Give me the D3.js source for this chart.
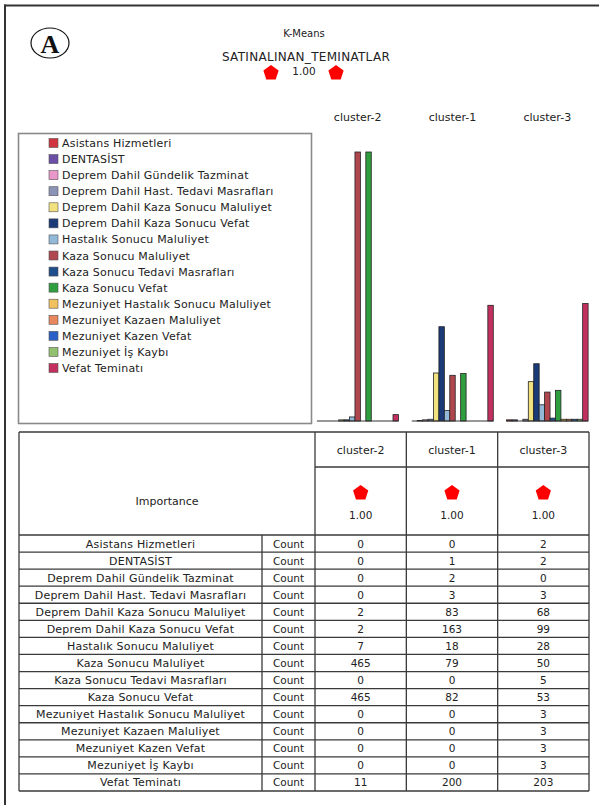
<!DOCTYPE html>
<html>
<head>
<meta charset="utf-8">
<script src="https://cdn.jsdelivr.net/npm/d3@7"></script>
<style>
  body { margin: 0; background: #fff; }
  text { font-family: "DejaVu Sans", sans-serif; fill: #222; }
</style>
</head>
<body>
<svg id="chart"></svg>
<script>
// data
const clusters = ["cluster-2", "cluster-1", "cluster-3"]
const categories = [
    "Asistans Hizmetleri",
    "DENTASİST",
    "Deprem Dahil Gündelik Tazminat",
    "Deprem Dahil Hast. Tedavi Masrafları",
    "Deprem Dahil Kaza Sonucu Maluliyet",
    "Deprem Dahil Kaza Sonucu Vefat",
    "Hastalık Sonucu Maluliyet",
    "Kaza Sonucu Maluliyet",
    "Kaza Sonucu Tedavi Masrafları",
    "Kaza Sonucu Vefat",
    "Mezuniyet Hastalık Sonucu Maluliyet",
    "Mezuniyet Kazaen Maluliyet",
    "Mezuniyet Kazen Vefat",
    "Mezuniyet İş Kaybı",
    "Vefat Teminatı"
]
const cluster2 = [0, 0, 0, 0, 2, 2, 7, 465, 0, 465, 0, 0, 0, 0, 11]
const cluster1 = [0, 1, 2, 3, 83, 163, 18, 79, 0, 82, 0, 0, 0, 0, 200]
const cluster3 = [2, 2, 0, 3, 68, 99, 28, 50, 5, 53, 3, 3, 3, 3, 203]
const importance = [1.00, 1.00, 1.00]
const overallImportance = 1.00
const fieldName = "SATINALINAN_TEMINATLAR"

const colors = ["#d0343f", "#6b4ea6", "#e996c9", "#8b93b6", "#f1e17f", "#1b3a78",
    "#93b9d9", "#b0474f", "#1f4e8c", "#2f9e3e", "#f0c15e", "#e8875e",
    "#2b61c6", "#92c06f", "#c2305f"]

const counts = [cluster2, cluster1, cluster3]

const width = 599,
    height = 805

const svg = d3.select("#chart")
    .attr("width", width)
    .attr("height", height)

svg.append("rect").attr("width", width).attr("height", height).attr("fill", "#fff")

// frame (top + left only)
svg.append("line").attr("x1", 4).attr("x2", width).attr("y1", 5.5).attr("y2", 5.5)
    .attr("stroke", "#333").attr("stroke-width", 2)
svg.append("line").attr("x1", 5).attr("x2", 5).attr("y1", 4.5).attr("y2", height)
    .attr("stroke", "#333").attr("stroke-width", 2)

// circled A
svg.append("ellipse").attr("cx", 50).attr("cy", 43).attr("rx", 19).attr("ry", 15)
    .attr("fill", "none").attr("stroke", "#111").attr("stroke-width", 1.2)
svg.append("text").attr("x", 50).attr("y", 52.5).attr("text-anchor", "middle")
    .style("font-family", "'Liberation Serif', serif").style("font-weight", "bold")
    .style("font-size", "26px").style("fill", "#111").text("A")

// pentagon generator
const pentagon = r => d3.lineRadial()
    .angle(d => d)
    .radius(r)
    .curve(d3.curveLinearClosed)(d3.range(5).map(i => i * 2 * Math.PI / 5))

// header
svg.append("text").attr("x", 304).attr("y", 37).attr("text-anchor", "middle")
    .style("font-size", "10px").text("K-Means")
svg.append("text").attr("x", 306).attr("y", 61).attr("text-anchor", "middle")
    .style("font-size", "12px").style("letter-spacing", "0.3px").text(fieldName)
svg.append("text").attr("x", 304).attr("y", 75).attr("text-anchor", "middle")
    .style("font-size", "10.5px").text(overallImportance.toFixed(2))
svg.selectAll(".hdrPent")
    .data([271, 336])
    .join("path")
    .attr("class", "hdrPent")
    .attr("transform", d => "translate(" + d + ",73)")
    .attr("d", pentagon(8))
    .attr("fill", "#f00")

// legend box
svg.append("rect").attr("x", 18.5).attr("y", 133.5).attr("width", 293).attr("height", 290)
    .attr("fill", "none").attr("stroke", "#8a8a8a").attr("stroke-width", 1.6)

const legendY = d3.scalePoint().domain(categories).range([143, 368])

const legend = svg.append("g").selectAll("g")
    .data(categories)
    .join("g")
    .attr("transform", d => "translate(0," + legendY(d) + ")")

legend.append("rect")
    .attr("x", 49).attr("y", -4.5).attr("width", 9).attr("height", 9)
    .attr("fill", (d, i) => colors[i])
    .attr("stroke", "#555").attr("stroke-width", 0.6)
legend.append("text")
    .attr("x", 62).attr("y", 4)
    .style("font-size", "11px")
    .style("letter-spacing", "0.2px")
    .text(d => d)

// bar chart
const groupX = d3.scaleBand()
    .domain(clusters)
    .range([315, 590])
    .paddingInner(0.14)
    .paddingOuter(0.02)

const innerX = d3.scaleBand()
    .domain(categories)
    .range([0, groupX.bandwidth()])

const y = d3.scaleLinear()
    .domain([0, d3.max(counts.flat())])
    .range([421, 152])

svg.selectAll(".clLabel")
    .data(clusters)
    .join("text")
    .attr("class", "clLabel")
    .attr("x", d => groupX(d) + groupX.bandwidth() / 2)
    .attr("y", 121)
    .attr("text-anchor", "middle")
    .style("font-size", "11px")
    .text(d => d)

clusters.forEach((c, ci) => {
    const g = svg.append("g").attr("transform", "translate(" + groupX(c) + ",0)")

    g.selectAll("rect")
        .data(counts[ci].map((v, i) => ({ cat: categories[i], v: v, i: i })).filter(d => d.v > 0))
        .join("rect")
        .attr("x", d => innerX(d.cat))
        .attr("width", innerX.bandwidth())
        .attr("y", d => y(d.v))
        .attr("height", d => y(0) - y(d.v))
        .attr("fill", d => colors[d.i])
        .attr("stroke", "#222")
        .attr("stroke-width", 0.8)

    g.append("line")
        .attr("x1", 0).attr("x2", groupX.bandwidth())
        .attr("y1", y(0)).attr("y2", y(0))
        .attr("stroke", "#333").attr("stroke-width", 1.2)
})

// table
const tLeft = 19, tCount = 262, tTop = 432, tHead = 467, tImp = 535, tBottom = 791

const colX = d3.scaleBand()
    .domain(clusters)
    .range([315, 589])

const rowY = d3.scaleBand()
    .domain(categories)
    .range([tImp, tBottom])

const table = svg.append("g")
const lineColor = "#3a3a3a"

// horizontal lines
const hLines = [tTop, tHead, tImp].concat(categories.map(d => rowY(d) + rowY.bandwidth()))
table.selectAll(".hl")
    .data(hLines)
    .join("line")
    .attr("class", "hl")
    .attr("x1", (d, i) => (i === 1) ? 315 : tLeft)
    .attr("x2", 589)
    .attr("y1", d => d).attr("y2", d => d)
    .attr("stroke", lineColor).attr("stroke-width", 1.3)

// vertical lines
const vLines = [
    { x: tLeft, y1: tTop, y2: tBottom },
    { x: tCount, y1: tImp, y2: tBottom },
    { x: 315, y1: tTop, y2: tBottom },
    { x: colX("cluster-1"), y1: tTop, y2: tBottom },
    { x: colX("cluster-3"), y1: tTop, y2: tBottom },
    { x: 589, y1: tTop, y2: tBottom }
]
table.selectAll(".vl")
    .data(vLines)
    .join("line")
    .attr("class", "vl")
    .attr("x1", d => d.x).attr("x2", d => d.x)
    .attr("y1", d => d.y1).attr("y2", d => d.y2)
    .attr("stroke", lineColor).attr("stroke-width", 1.3)

// header + importance
table.selectAll(".thc")
    .data(clusters)
    .join("text")
    .attr("class", "thc")
    .attr("x", d => colX(d) + colX.bandwidth() / 2)
    .attr("y", 454)
    .attr("text-anchor", "middle")
    .style("font-size", "11px")
    .text(d => d)

table.append("text").attr("x", (tLeft + 315) / 2).attr("y", 505)
    .attr("text-anchor", "middle").style("font-size", "11px").text("Importance")

table.selectAll(".impP")
    .data(clusters)
    .join("path")
    .attr("class", "impP")
    .attr("transform", d => "translate(" + (colX(d) + colX.bandwidth() / 2) + ",493)")
    .attr("d", pentagon(8))
    .attr("fill", "#f00")

table.selectAll(".impT")
    .data(clusters)
    .join("text")
    .attr("class", "impT")
    .attr("x", d => colX(d) + colX.bandwidth() / 2)
    .attr("y", 519)
    .attr("text-anchor", "middle")
    .style("font-size", "10.5px")
    .text((d, i) => importance[i].toFixed(2))

// data rows
const rows = table.selectAll(".row")
    .data(categories)
    .join("g")
    .attr("class", "row")
    .attr("transform", d => "translate(0," + (rowY(d) + rowY.bandwidth() / 2 + 4) + ")")

rows.append("text")
    .attr("x", (tLeft + tCount) / 2)
    .attr("text-anchor", "middle")
    .style("font-size", "11px")
    .style("letter-spacing", "0.2px")
    .text(d => d)

rows.append("text")
    .attr("x", (tCount + 315) / 2)
    .attr("text-anchor", "middle")
    .style("font-size", "10.5px")
    .text("Count")

clusters.forEach((c, ci) => {
    rows.append("text")
        .attr("x", colX(c) + colX.bandwidth() / 2)
        .attr("text-anchor", "middle")
        .style("font-size", "10.5px")
        .text((d, i) => counts[ci][i])
})
</script>
</body>
</html>
